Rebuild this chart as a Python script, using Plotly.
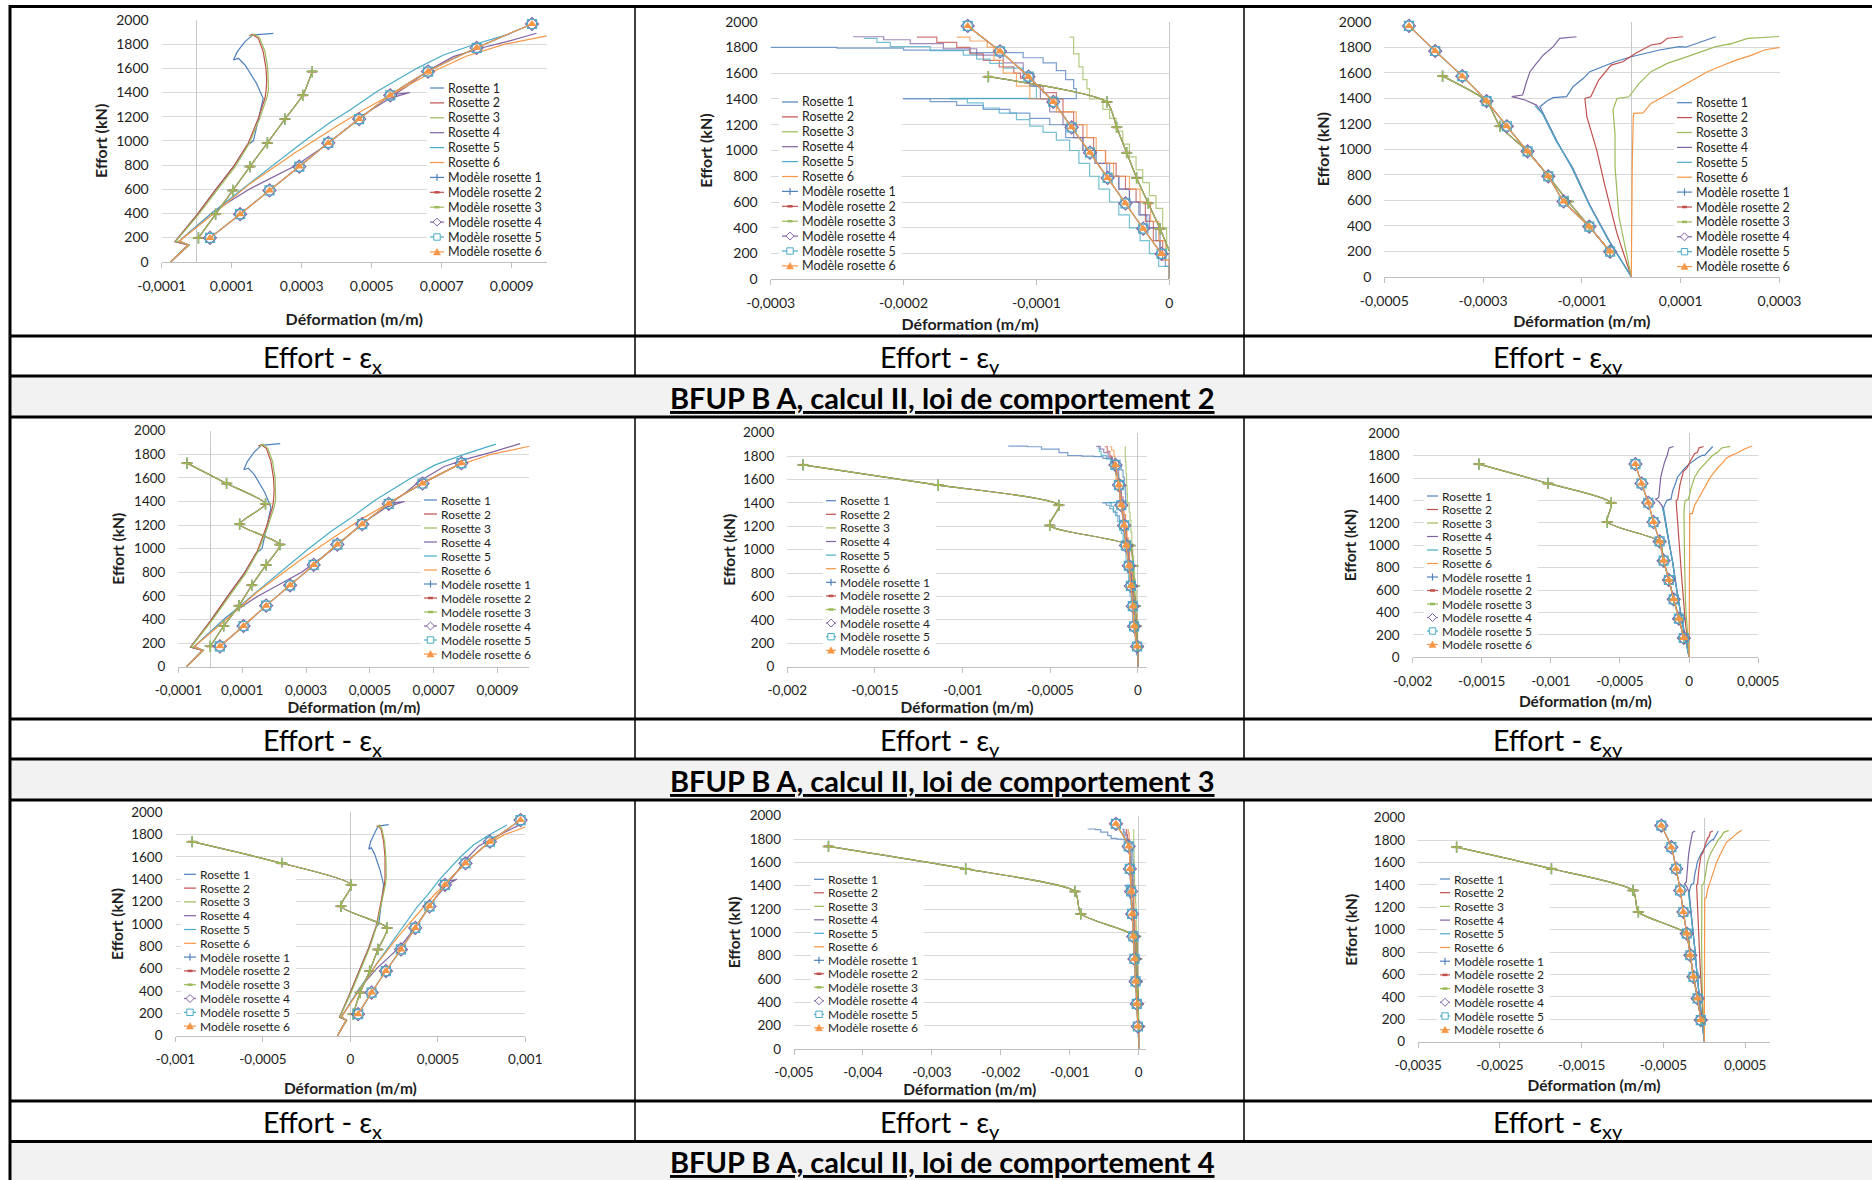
import plotly.graph_objects as go

W, H = 1872, 1180
FONT = "Lato, 'Open Sans', 'DejaVu Sans', sans-serif"
TXT = "#1E1E1E"

COLORS = ["#4F81BD", "#C0504D", "#9BBB59", "#8064A2", "#4BACC6", "#F79646"]
SERIES_NAMES = ["Rosette 1", "Rosette 2", "Rosette 3", "Rosette 4", "Rosette 5", "Rosette 6",
                "Modèle rosette 1", "Modèle rosette 2", "Modèle rosette 3",
                "Modèle rosette 4", "Modèle rosette 5", "Modèle rosette 6"]

CAPTION_MAIN = "Effort - ε"
CAPTION_SUBS = ["x", "y", "xy"]
SECTION_TITLES = ["BFUP B A, calcul II, loi de comportement 2",
                  "BFUP B A, calcul II, loi de comportement 3",
                  "BFUP B A, calcul II, loi de comportement 4"]
Y_TITLE = "Effort (kN)"
X_TITLE = "Déformation (m/m)"

# ---------------- tick values / labels ----------------
Y_TICKS = [0, 200, 400, 600, 800, 1000, 1200, 1400, 1600, 1800, 2000]
Y_TICK_LABELS = ["0", "200", "400", "600", "800", "1000", "1200", "1400", "1600", "1800", "2000"]

X_TICKS_EX_SMALL = [-0.0001, 0.0001, 0.0003, 0.0005, 0.0007, 0.0009]
X_LABELS_EX_SMALL = ["-0,0001", "0,0001", "0,0003", "0,0005", "0,0007", "0,0009"]
X_TICKS_EY_SMALL = [-0.0003, -0.0002, -0.0001, 0.0]
X_LABELS_EY_SMALL = ["-0,0003", "-0,0002", "-0,0001", "0"]
X_TICKS_EXY_SMALL = [-0.0005, -0.0003, -0.0001, 0.0001, 0.0003]
X_LABELS_EXY_SMALL = ["-0,0005", "-0,0003", "-0,0001", "0,0001", "0,0003"]
X_TICKS_EY_MID = [-0.002, -0.0015, -0.001, -0.0005, 0.0]
X_LABELS_EY_MID = ["-0,002", "-0,0015", "-0,001", "-0,0005", "0"]
X_TICKS_EXY_MID = [-0.002, -0.0015, -0.001, -0.0005, 0.0, 0.0005]
X_LABELS_EXY_MID = ["-0,002", "-0,0015", "-0,001", "-0,0005", "0", "0,0005"]
X_TICKS_EX_WIDE = [-0.001, -0.0005, 0.0, 0.0005, 0.001]
X_LABELS_EX_WIDE = ["-0,001", "-0,0005", "0", "0,0005", "0,001"]
X_TICKS_EY_WIDE = [-0.005, -0.004, -0.003, -0.002, -0.001, 0.0]
X_LABELS_EY_WIDE = ["-0,005", "-0,004", "-0,003", "-0,002", "-0,001", "0"]
X_TICKS_EXY_WIDE = [-0.0035, -0.0025, -0.0015, -0.0005, 0.0005]
X_LABELS_EXY_WIDE = ["-0,0035", "-0,0025", "-0,0015", "-0,0005", "0,0005"]

# ---------------- experimental rosettes : eps_x ----------------
EX_ROS1_STRAIN = [-0.74e-4, -0.24e-4, -0.62e-4, -0.3e-4, 0.0, 0.57e-4, 1.05e-4, 1.45e-4, 1.62e-4, 1.78e-4,
                  1.9e-4, 1.7e-4, 1.52e-4, 1.38e-4, 1.19e-4, 1.05e-4, 1.16e-4, 1.3e-4, 1.38e-4, 1.5e-4,
                  1.6e-4, 2.19e-4]
EX_ROS1_LOAD = [0, 138, 166, 280, 386, 607, 786, 966, 1000, 1200, 1350, 1480, 1559, 1628, 1683, 1669,
                1738, 1790, 1821, 1850, 1876, 1890]
EX_ROS2_STRAIN = [-0.74e-4, -0.24e-4, -0.62e-4, 0.0, 0.57e-4, 1.05e-4, 1.47e-4, 1.76e-4, 1.95e-4, 1.98e-4,
                  2.0e-4, 1.98e-4, 1.9e-4, 1.76e-4, 1.6e-4, 1.5e-4]
EX_ROS2_LOAD = [0, 138, 166, 386, 607, 786, 979, 1186, 1352, 1407, 1500, 1600, 1738, 1848, 1880, 1872]
EX_ROS3_STRAIN = [-0.74e-4, -0.2e-4, -0.6e-4, 0.05e-4, 0.62e-4, 1.1e-4, 1.5e-4, 1.8e-4, 2.0e-4, 2.05e-4,
                  2.03e-4, 1.95e-4, 1.8e-4, 1.65e-4, 1.55e-4]
EX_ROS3_LOAD = [0, 140, 168, 390, 607, 786, 979, 1186, 1352, 1420, 1600, 1740, 1850, 1885, 1866]
EX_ROS4_STRAIN = [-0.74e-4, -0.24e-4, -0.5e-4, 0.5e-4, 1.5e-4, 2.86e-4, 3.76e-4, 4.76e-4, 5.52e-4, 6.09e-4,
                  5.66e-4, 6.0e-4, 6.57e-4, 7.33e-4, 8.1e-4, 8.86e-4, 9.71e-4]
EX_ROS4_LOAD = [0, 138, 170, 420, 600, 800, 979, 1214, 1352, 1400, 1385, 1450, 1573, 1697, 1766, 1821, 1890]
EX_ROS5_STRAIN = [-0.74e-4, -0.24e-4, -0.5e-4, 0.48e-4, 1.3e-4, 2.2e-4, 3.05e-4, 3.8e-4, 4.38e-4, 5.14e-4,
                  6.29e-4, 7.05e-4, 7.95e-4, 8.95e-4]
EX_ROS5_LOAD = [0, 138, 170, 414, 600, 800, 993, 1150, 1255, 1407, 1600, 1710, 1799, 1886]
EX_ROS6_STRAIN = [-0.74e-4, -0.24e-4, -0.5e-4, 0.5e-4, 1.5e-4, 2.8e-4, 4.0e-4, 4.76e-4, 5.8e-4, 6.8e-4,
                  7.7e-4, 8.8e-4, 10.0e-4, 10.4e-4]
EX_ROS6_LOAD = [0, 138, 170, 400, 640, 900, 1120, 1255, 1420, 1580, 1700, 1800, 1868, 1885]

# ---------------- experimental rosettes : eps_y ----------------
EY_ROS1_STRAIN = [0.0, -0.03e-4, -0.07e-4, -0.1e-4, -0.17e-4, -0.23e-4, -0.3e-4, -0.38e-4, -0.45e-4,
                  -0.55e-4, -0.65e-4, -0.78e-4, -0.9e-4, -1.05e-4, -1.2e-4, -1.4e-4, -1.6e-4, -1.8e-4,
                  -2.0e-4, -0.7e-4, -0.72e-4, -0.78e-4, -0.85e-4, -0.95e-4, -1.1e-4, -1.5e-4, -2.0e-4,
                  -2.5e-4, -3.2e-4, -4.0e-4, -4.5e-4, -5.5e-4, -6.3e-4, -7.4e-4]
EY_ROS1_LOAD = [0, 100, 200, 300, 400, 500, 600, 700, 800, 900, 1000, 1100, 1200, 1250, 1290, 1320, 1350,
                1380, 1400, 1402, 1480, 1550, 1620, 1680, 1720, 1760, 1780, 1795, 1800, 1805, 1830, 1860,
                1880, 1886]
EY_ROS2_STRAIN = [0.0, -0.05e-4, -0.12e-4, -0.18e-4, -0.25e-4, -0.33e-4, -0.4e-4, -0.48e-4, -0.57e-4,
                  -0.65e-4, -0.72e-4, -0.8e-4, -0.85e-4, -0.95e-4, -1.05e-4, -1.12e-4, -1.17e-4, -1.28e-4,
                  -1.4e-4, -1.5e-4, -1.6e-4, -1.75e-4, -1.9e-4]
EY_ROS2_LOAD = [0, 150, 300, 450, 600, 700, 800, 900, 1000, 1100, 1200, 1300, 1400, 1450, 1500, 1560, 1600,
                1650, 1700, 1750, 1800, 1840, 1880]
EY_ROS3_STRAIN = [0.0, -0.02e-4, -0.05e-4, -0.1e-4, -0.15e-4, -0.2e-4, -0.25e-4, -0.3e-4, -0.35e-4,
                  -0.4e-4, -0.45e-4, -0.5e-4, -0.6e-4, -0.62e-4, -0.65e-4, -0.68e-4, -0.72e-4, -0.75e-4]
EY_ROS3_LOAD = [0, 200, 400, 550, 650, 750, 850, 950, 1050, 1150, 1250, 1320, 1400, 1480, 1550, 1650, 1750, 1880]
EY_ROS4_STRAIN = [0.0, -0.07e-4, -0.15e-4, -0.22e-4, -0.3e-4, -0.38e-4, -0.47e-4, -0.56e-4, -0.65e-4,
                  -0.72e-4, -0.8e-4, -0.9e-4, -0.97e-4, -1.02e-4, -1.1e-4, -1.25e-4, -1.45e-4, -1.7e-4,
                  -1.95e-4, -2.15e-4, -2.38e-4]
EY_ROS4_LOAD = [0, 200, 400, 500, 600, 700, 800, 900, 1000, 1100, 1200, 1300, 1400, 1500, 1600, 1680, 1740,
                1790, 1830, 1860, 1883]
EY_ROS5_STRAIN = [0.0, -0.08e-4, -0.15e-4, -0.22e-4, -0.3e-4, -0.38e-4, -0.45e-4, -0.53e-4, -0.6e-4,
                  -0.68e-4, -0.75e-4, -0.85e-4, -0.95e-4, -1.05e-4, -1.15e-4, -1.28e-4, -1.4e-4, -1.52e-4,
                  -1.65e-4, -1.0e-4, -1.05e-4, -1.1e-4, -1.25e-4, -1.35e-4, -1.45e-4, -1.55e-4, -1.8e-4,
                  -2.1e-4, -2.2e-4, -2.3e-4]
EY_ROS5_LOAD = [0, 100, 200, 300, 400, 500, 600, 700, 800, 900, 1000, 1080, 1140, 1190, 1240, 1290, 1330,
                1370, 1400, 1405, 1500, 1600, 1640, 1676, 1710, 1741, 1775, 1806, 1840, 1870]
EY_ROS6_STRAIN = [0.0, -0.03e-4, -0.08e-4, -0.14e-4, -0.22e-4, -0.3e-4, -0.42e-4, -0.48e-4, -0.55e-4,
                  -0.62e-4, -0.7e-4, -0.85e-4, -1.05e-4, -1.15e-4, -1.25e-4, -1.32e-4, -1.37e-4, -1.5e-4,
                  -1.6e-4]
EY_ROS6_LOAD = [0, 150, 300, 450, 600, 700, 800, 900, 1000, 1100, 1200, 1300, 1400, 1500, 1600, 1700, 1800,
                1850, 1880]

# ---------------- experimental rosettes : eps_xy ----------------
EXY_ROS1_STRAIN = [0.0, -0.45e-4, -0.85e-4, -1.2e-4, -1.5e-4, -1.78e-4, -1.85e-4, -1.7e-4, -1.58e-4,
                   -1.31e-4, -1.18e-4, -0.97e-4, -0.84e-4, -0.33e-4, 0.0, 0.57e-4, 0.97e-4, 1.1e-4, 1.71e-4]
EXY_ROS1_LOAD = [0, 285, 565, 850, 1060, 1270, 1333, 1380, 1404, 1412, 1490, 1556, 1608, 1686, 1725, 1778,
                 1804, 1800, 1882]
EXY_ROS2_STRAIN = [0.0, -0.15e-4, -0.29e-4, -0.53e-4, -0.7e-4, -0.9e-4, -0.94e-4, -0.82e-4, -0.66e-4,
                   -0.41e-4, -0.17e-4, 0.08e-4, 0.4e-4, 0.6e-4, 0.73e-4, 1.05e-4]
EXY_ROS2_LOAD = [0, 170, 340, 706, 993, 1255, 1398, 1411, 1542, 1660, 1686, 1751, 1817, 1830, 1870, 1882]
EXY_ROS3_STRAIN = [0.0, -0.1e-4, -0.25e-4, -0.33e-4, -0.33e-4, -0.37e-4, -0.29e-4, -0.05e-4, 0.16e-4,
                   0.4e-4, 0.73e-4, 1.22e-4, 1.71e-4, 2.05e-4, 1.95e-4, 2.36e-4, 2.99e-4]
EXY_ROS3_LOAD = [0, 200, 470, 863, 1124, 1307, 1398, 1411, 1516, 1608, 1673, 1738, 1804, 1830, 1818, 1869, 1884]
EXY_ROS4_STRAIN = [0.0, -0.45e-4, -0.84e-4, -1.18e-4, -1.51e-4, -1.78e-4, -1.92e-4, -2.15e-4, -2.42e-4,
                   -2.2e-4, -2.12e-4, -2.05e-4, -1.92e-4, -1.78e-4, -1.58e-4, -1.45e-4, -1.11e-4]
EXY_ROS4_LOAD = [0, 280, 562, 850, 1059, 1268, 1346, 1386, 1412, 1425, 1529, 1608, 1673, 1739, 1804, 1869, 1882]
EXY_ROS5_STRAIN = [0.0, -0.47e-4, -0.86e-4, -1.2e-4, -1.52e-4, -1.8e-4, -1.95e-4]
EXY_ROS5_LOAD = [0, 290, 570, 860, 1065, 1280, 1340]
EXY_ROS6_STRAIN = [0.0, 0.01e-4, 0.02e-4, 0.04e-4, 0.05e-4, 0.24e-4, 0.4e-4, 0.65e-4, 0.89e-4, 1.22e-4,
                   1.54e-4, 1.87e-4, 2.12e-4, 2.44e-4, 2.69e-4, 3.1e-4, 3.4e-4, 4.0e-4, 4.57e-4]
EXY_ROS6_LOAD = [0, 500, 900, 1250, 1281, 1285, 1359, 1411, 1464, 1542, 1608, 1660, 1699, 1738, 1778, 1805,
                 1820, 1860, 1887]

# ---------------- model results ----------------
LOADS_LOI2 = [197, 393, 590, 787, 983, 1180, 1377, 1573, 1770, 1967]
LOADS_LOI3 = [172.5, 345, 517.5, 690, 862.5, 1035, 1207.5, 1380, 1552.5, 1725]
LOADS_LOI4 = [193, 386, 579, 772, 965, 1158, 1351, 1544, 1737, 1930]

# models 1-3 (superposed) and models 4-6 (superposed)
LOI2_EX_M123 = [0.05e-4, 0.54e-4, 1.03e-4, 1.52e-4, 2.02e-4, 2.52e-4, 3.03e-4, 3.30e-4]
LOI2_EX_M456 = [0.38e-4, 1.24e-4, 2.08e-4, 2.93e-4, 3.76e-4, 4.64e-4, 5.53e-4, 6.61e-4, 8.0e-4, 9.58e-4]
LOI2_EY_M123 = [0.01e-4, -0.07e-4, -0.158e-4, -0.246e-4, -0.321e-4, -0.396e-4, -0.47e-4, -1.362e-4]
LOI2_EY_M456 = [-0.058e-4, -0.196e-4, -0.33e-4, -0.464e-4, -0.597e-4, -0.735e-4, -0.873e-4, -1.06e-4,
                -1.274e-4, -1.517e-4]
LOI2_EXY_M123 = [-0.43e-4, -0.85e-4, -1.28e-4, -1.68e-4, -2.1e-4, -2.66e-4, -2.93e-4, -3.82e-4]
LOI2_EXY_M456 = [-0.43e-4, -0.85e-4, -1.37e-4, -1.68e-4, -2.1e-4, -2.52e-4, -2.93e-4, -3.42e-4, -3.97e-4,
                 -4.5e-4]

LOI3_EX_M123 = [0.0, 0.42e-4, 0.9e-4, 1.3e-4, 1.75e-4, 2.18e-4, 0.92e-4, 1.73e-4, 0.51e-4, -0.73e-4]
LOI3_EX_M456 = [0.3e-4, 1.04e-4, 1.75e-4, 2.5e-4, 3.24e-4, 3.98e-4, 4.76e-4, 5.59e-4, 6.65e-4, 7.87e-4]
LOI3_EY_M123 = [0.0, -0.1e-4, -0.15e-4, -0.22e-4, -0.29e-4, -0.45e-4, -5.03e-4, -4.51e-4, -11.39e-4, -19.1e-4]
LOI3_EY_M456 = [-0.05e-4, -0.22e-4, -0.29e-4, -0.4e-4, -0.52e-4, -0.68e-4, -0.79e-4, -0.95e-4, -1.08e-4,
                -1.28e-4]
LOI3_EXY_M123 = [-0.38e-4, -0.73e-4, -1.11e-4, -1.46e-4, -1.84e-4, -2.13e-4, -5.92e-4, -5.63e-4, -10.2e-4,
                 -15.2e-4]
LOI3_EXY_M456 = [-0.38e-4, -0.73e-4, -1.11e-4, -1.46e-4, -1.84e-4, -2.13e-4, -2.57e-4, -2.95e-4, -3.44e-4,
                 -3.88e-4]

LOI4_EX_M123 = [0.16e-4, 0.56e-4, 1.1e-4, 1.57e-4, 2.1e-4, -0.54e-4, 0.05e-4, -3.92e-4, -9.05e-4]
LOI4_EX_M456 = [0.44e-4, 1.21e-4, 2.03e-4, 2.89e-4, 3.71e-4, 4.52e-4, 5.41e-4, 6.58e-4, 7.98e-4, 9.73e-4]
LOI4_EY_M123 = [0.0, -0.1e-4, -0.2e-4, -0.3e-4, -0.45e-4, -8.4e-4, -9.26e-4, -25.1e-4, -45.0e-4]
LOI4_EY_M456 = [-0.12e-4, -0.28e-4, -0.45e-4, -0.62e-4, -0.78e-4, -0.95e-4, -1.1e-4, -1.28e-4, -1.45e-4,
                -3.3e-4]
LOI4_EXY_M123 = [-0.43e-4, -0.82e-4, -1.32e-4, -1.71e-4, -2.15e-4, -8.07e-4, -8.72e-4, -18.7e-4, -30.3e-4]
LOI4_EXY_M456 = [-0.43e-4, -0.82e-4, -1.32e-4, -1.71e-4, -2.15e-4, -2.56e-4, -2.95e-4, -3.44e-4, -4.03e-4,
                 -5.26e-4]

ROSETTES = {
    "ex": [(EX_ROS1_STRAIN, EX_ROS1_LOAD), (EX_ROS2_STRAIN, EX_ROS2_LOAD), (EX_ROS3_STRAIN, EX_ROS3_LOAD),
           (EX_ROS4_STRAIN, EX_ROS4_LOAD), (EX_ROS5_STRAIN, EX_ROS5_LOAD), (EX_ROS6_STRAIN, EX_ROS6_LOAD)],
    "ey": [(EY_ROS1_STRAIN, EY_ROS1_LOAD), (EY_ROS2_STRAIN, EY_ROS2_LOAD), (EY_ROS3_STRAIN, EY_ROS3_LOAD),
           (EY_ROS4_STRAIN, EY_ROS4_LOAD), (EY_ROS5_STRAIN, EY_ROS5_LOAD), (EY_ROS6_STRAIN, EY_ROS6_LOAD)],
    "exy": [(EXY_ROS1_STRAIN, EXY_ROS1_LOAD), (EXY_ROS2_STRAIN, EXY_ROS2_LOAD), (EXY_ROS3_STRAIN, EXY_ROS3_LOAD),
            (EXY_ROS4_STRAIN, EXY_ROS4_LOAD), (EXY_ROS5_STRAIN, EXY_ROS5_LOAD), (EXY_ROS6_STRAIN, EXY_ROS6_LOAD)],
}

# ---------------- chart layout (pixel geometry of each plot area) ----------------
# px = (left, right, top, bottom); leg = (key x, text x, first row y, row step, font size)
# ysd / xsd = axis-title standoffs
CHARTS = [
    dict(comp="ex", loads=LOADS_LOI2, m123=LOI2_EX_M123, m456=LOI2_EX_M456,
         px=(161.7, 546.7, 20.0, 261.7), xr=[-0.0001, 0.001], ticks=(X_TICKS_EX_SMALL, X_LABELS_EX_SMALL),
         fs=14, leg=(430, 446, 88, 14.9, 12.5), ysd=4, xsd=21, tfs=16),
    dict(comp="ey", loads=LOADS_LOI2, m123=LOI2_EY_M123, m456=LOI2_EY_M456,
         px=(770.7, 1169.3, 21.7, 279.3), xr=[-0.0003, 0.0], ticks=(X_TICKS_EY_SMALL, X_LABELS_EY_SMALL),
         fs=14, leg=(782, 800, 102, 14.9, 12.5), ysd=8, xsd=8, tfs=16),
    dict(comp="exy", loads=LOADS_LOI2, m123=LOI2_EXY_M123, m456=LOI2_EXY_M456,
         px=(1384.3, 1779.5, 21.7, 276.7), xr=[-0.0005, 0.0003], ticks=(X_TICKS_EXY_SMALL, X_LABELS_EXY_SMALL),
         fs=14, leg=(1677, 1694, 102.7, 14.9, 12.5), ysd=5, xsd=8, tfs=16),
    dict(comp="ex", loads=LOADS_LOI3, m123=LOI3_EX_M123, m456=LOI3_EX_M456,
         px=(178.4, 529.4, 430.7, 666.7), xr=[-0.0001, 0.001], ticks=(X_TICKS_EX_SMALL, X_LABELS_EX_SMALL),
         fs=13.5, leg=(424, 439, 500, 14.0, 12), ysd=5, xsd=4, tfs=15.5),
    dict(comp="ey", loads=LOADS_LOI3, m123=LOI3_EY_M123, m456=LOI3_EY_M456,
         px=(787.3, 1146.7, 432.7, 666.7), xr=[-0.002, 0.00005], ticks=(X_TICKS_EY_MID, X_LABELS_EY_MID),
         fs=13.5, leg=(826, 838, 500.7, 13.6, 12), ysd=3, xsd=4, tfs=15.5),
    dict(comp="exy", loads=LOADS_LOI3, m123=LOI3_EXY_M123, m456=LOI3_EXY_M456,
         px=(1412.6, 1758.2, 433.3, 657.3), xr=[-0.002, 0.0005], ticks=(X_TICKS_EXY_MID, X_LABELS_EXY_MID),
         fs=13.5, leg=(1427, 1440, 496, 13.5, 12), ysd=7, xsd=8, tfs=15.5),
    dict(comp="ex", loads=LOADS_LOI4, m123=LOI4_EX_M123, m456=LOI4_EX_M456,
         px=(175.5, 525.3, 812.3, 1035.7), xr=[-0.001, 0.001], ticks=(X_TICKS_EX_WIDE, X_LABELS_EX_WIDE),
         fs=13.5, leg=(184, 198, 874.3, 13.8, 12), ysd=3, xsd=17, tfs=15.5),
    dict(comp="ey", loads=LOADS_LOI4, m123=LOI4_EY_M123, m456=LOI4_EY_M456,
         px=(794.0, 1145.6, 815.7, 1049.0), xr=[-0.005, 0.0001], ticks=(X_TICKS_EY_WIDE, X_LABELS_EY_WIDE),
         fs=13.5, leg=(814, 826, 879.3, 13.5, 12), ysd=5, xsd=4, tfs=15.5),
    dict(comp="exy", loads=LOADS_LOI4, m123=LOI4_EXY_M123, m456=LOI4_EXY_M456,
         px=(1418.2, 1769.7, 817.7, 1041.7), xr=[-0.0035, 0.0008], ticks=(X_TICKS_EXY_WIDE, X_LABELS_EXY_WIDE),
         fs=13.5, leg=(1440, 1452, 879, 13.7, 12), ysd=12, xsd=8, tfs=15.5),
]

MODEL_MARKERS = [
    dict(symbol="cross-thin", size=8, color=COLORS[0], line=dict(width=1.5, color=COLORS[0])),
    dict(symbol="line-ew", size=6, color=COLORS[1], line=dict(width=2, color=COLORS[1])),
    dict(symbol="cross-thin", size=8, color=COLORS[2], line=dict(width=1.5, color=COLORS[2])),
    dict(symbol="diamond-open", size=10, color=COLORS[3], line=dict(width=1.2)),
    dict(symbol="square-open", size=9, color=COLORS[4], line=dict(width=1.2)),
    dict(symbol="triangle-up", size=8, color=COLORS[5], line=dict(width=0)),
]
LEGEND_KEYS = ["cross", "dash", "dash", "diamond", "square", "triangle"]

# table geometry (pixels)
COL_X = [10, 635, 1244, W]
ROW_CHART = [(6, 336), (417, 719), (800, 1101)]
ROW_CAPTION = [(336, 376), (719, 759), (1101, 1141)]
ROW_BAND = [(376, 417), (759, 800), (1141, 1180)]
CAP_FS, SUB_FS = 28.5, 20
CAP_MAIN_W = 108            # approximate rendered width of "Effort - ε" (px)
SUB_W = {"x": 10, "y": 10, "xy": 20}

GRID = "#D9D9D9"
AXIS = "#BFBFBF"


def PX(v):
    return v / W


def PY(v):
    return 1 - v / H


fig = go.Figure()
shapes = []
annotations = []
layout_axes = {}

# background table bands (below everything)
for (y0, y1) in ROW_BAND:
    shapes.append(dict(type="rect", xref="paper", yref="paper", x0=PX(COL_X[0]), x1=1.0,
                       y0=PY(y1), y1=PY(y0), fillcolor="#F2F2F2", line=dict(width=0), layer="below"))

for k, ch in enumerate(CHARTS):
    xa = "xaxis" if k == 0 else f"xaxis{k + 1}"
    ya = "yaxis" if k == 0 else f"yaxis{k + 1}"
    xr = "x" if k == 0 else f"x{k + 1}"
    yr = "y" if k == 0 else f"y{k + 1}"
    x0, x1, yt, yb = ch["px"]
    tv, tt = ch["ticks"]
    layout_axes[xa] = dict(
        domain=[PX(x0), PX(x1)], anchor=yr, range=ch["xr"], tickmode="array", tickvals=tv, ticktext=tt,
        showgrid=False, zeroline=True, zerolinecolor="#C8C8C8", zerolinewidth=1, automargin=False,
        showline=True, linecolor=AXIS, linewidth=1, ticks="outside", ticklen=5, tickcolor=AXIS,
        tickfont=dict(family=FONT, size=ch["fs"], color=TXT), ticklabelstandoff=6, fixedrange=True,
        title=dict(text=X_TITLE, standoff=ch["xsd"],
                   font=dict(family=FONT, size=ch["tfs"], color=TXT, weight="bold")))
    layout_axes[ya] = dict(
        domain=[PY(yb), PY(yt)], anchor=xr, range=[0, 2000], tickmode="array", tickvals=Y_TICKS,
        ticktext=Y_TICK_LABELS, showgrid=True, gridcolor=GRID, gridwidth=1, zeroline=False,
        showline=False, ticks="", tickfont=dict(family=FONT, size=ch["fs"], color=TXT),
        ticklabelstandoff=12, fixedrange=True, automargin=False,
        title=dict(text=Y_TITLE, standoff=ch["ysd"],
                   font=dict(family=FONT, size=ch["tfs"], color=TXT, weight="bold")))

    # experimental rosettes
    for i, (sx, sy) in enumerate(ROSETTES[ch["comp"]]):
        fig.add_trace(go.Scatter(
            x=sx, y=sy, mode="lines", name=SERIES_NAMES[i], xaxis=xr, yaxis=yr, showlegend=False,
            line=dict(color=COLORS[i], width=1.2, shape="vh" if ch["comp"] == "ey" else "linear"),
            opacity=0.75 if ch["comp"] == "ey" else 1.0, hoverinfo="skip"))
    # model series
    for i in range(6):
        vals = ch["m123"] if i < 3 else ch["m456"]
        fig.add_trace(go.Scatter(
            x=vals, y=ch["loads"][:len(vals)], mode="lines+markers", name=SERIES_NAMES[6 + i],
            xaxis=xr, yaxis=yr, showlegend=False, cliponaxis=False,
            line=dict(color=COLORS[i], width=1.2, shape="spline", smoothing=0.6),
            marker=MODEL_MARKERS[i], hoverinfo="skip"))

    # legend box (white, hides gridlines like the original)
    kx, tx, ly0, sp, lfs = ch["leg"]
    n = len(SERIES_NAMES)
    shapes.append(dict(type="rect", xref="paper", yref="paper", x0=PX(kx - 3), x1=PX(tx + 7.9 * lfs + 3),
                       y0=PY(ly0 + (n - 1) * sp + sp / 2), y1=PY(ly0 - sp / 2),
                       fillcolor="white", line=dict(width=0), layer="above"))
    for i, name in enumerate(SERIES_NAMES):
        cy = ly0 + i * sp
        col = COLORS[i % 6]
        shapes.append(dict(type="line", xref="paper", yref="paper", x0=PX(kx), x1=PX(tx - 2),
                           y0=PY(cy), y1=PY(cy), line=dict(color=col, width=1.2), layer="above"))
        if i >= 6:
            cx = (kx + tx - 2) / 2
            key = LEGEND_KEYS[i - 6]
            if key == "cross":
                shapes.append(dict(type="line", xref="paper", yref="paper", x0=PX(cx), x1=PX(cx),
                                   y0=PY(cy - 3.5), y1=PY(cy + 3.5), line=dict(color=col, width=1.2)))
            elif key == "dash":
                shapes.append(dict(type="line", xref="paper", yref="paper", x0=PX(cx - 2.5), x1=PX(cx + 2.5),
                                   y0=PY(cy), y1=PY(cy), line=dict(color=col, width=2.5)))
            elif key == "diamond":
                pts = [(cx, cy - 4), (cx + 4, cy), (cx, cy + 4), (cx - 4, cy)]
                path = "M " + " L ".join(f"{PX(a):.6f},{PY(b):.6f}" for a, b in pts) + " Z"
                shapes.append(dict(type="path", xref="paper", yref="paper", path=path,
                                   fillcolor="white", line=dict(color=col, width=1)))
            elif key == "square":
                shapes.append(dict(type="rect", xref="paper", yref="paper", x0=PX(cx - 3.2), x1=PX(cx + 3.2),
                                   y0=PY(cy + 3.2), y1=PY(cy - 3.2), fillcolor="white",
                                   line=dict(color=col, width=1)))
            else:
                pts = [(cx, cy - 3.5), (cx + 3.5, cy + 3), (cx - 3.5, cy + 3)]
                path = "M " + " L ".join(f"{PX(a):.6f},{PY(b):.6f}" for a, b in pts) + " Z"
                shapes.append(dict(type="path", xref="paper", yref="paper", path=path,
                                   fillcolor=col, line=dict(color=col, width=0.5)))
        annotations.append(dict(text=name, x=PX(tx), y=PY(cy), xref="paper", yref="paper",
                                showarrow=False, xanchor="left", yanchor="middle",
                                font=dict(family=FONT, size=lfs, color=TXT)))

# captions (main text + lowered subscript) and section titles
for r in range(3):
    cy = (ROW_CAPTION[r][0] + ROW_CAPTION[r][1]) / 2 + 1
    for c in range(3):
        cx = (COL_X[c] + COL_X[c + 1]) / 2
        sub = CAPTION_SUBS[c]
        split = cx - (CAP_MAIN_W + SUB_W[sub]) / 2 + CAP_MAIN_W
        annotations.append(dict(text=CAPTION_MAIN, x=PX(split), y=PY(cy), xref="paper", yref="paper",
                                showarrow=False, xanchor="right", yanchor="middle", borderpad=0,
                                borderwidth=0, font=dict(family=FONT, size=CAP_FS, color="#000000")))
        annotations.append(dict(text=sub, x=PX(split), y=PY(cy + 9), xref="paper", yref="paper",
                                showarrow=False, xanchor="left", yanchor="middle", borderpad=0,
                                borderwidth=0, font=dict(family=FONT, size=SUB_FS, color="#000000")))
    by = (ROW_BAND[r][0] + ROW_BAND[r][1]) / 2
    annotations.append(dict(text=f"<u>{SECTION_TITLES[r]}</u>", x=PX(942), y=PY(by + 1),
                            xref="paper", yref="paper", showarrow=False, xanchor="center", yanchor="middle",
                            font=dict(family=FONT, size=29, color="#000000", weight="bold")))

# table lines
HLINES = [6.5, 336, 376, 417, 719, 759, 800, 1101, 1141.5]
for yv in HLINES:
    shapes.append(dict(type="line", xref="paper", yref="paper", x0=PX(COL_X[0]), x1=1.0,
                       y0=PY(yv), y1=PY(yv), line=dict(color="#000000", width=3)))
shapes.append(dict(type="line", xref="paper", yref="paper", x0=PX(10), x1=PX(10),
                   y0=PY(5), y1=0, line=dict(color="#000000", width=3)))
for r in range(3):
    for xv in COL_X[1:3]:
        shapes.append(dict(type="line", xref="paper", yref="paper", x0=PX(xv), x1=PX(xv),
                           y0=PY(ROW_CHART[r][0]), y1=PY(ROW_CAPTION[r][1]),
                           line=dict(color="#000000", width=1.5)))

fig.update_layout(
    width=W, height=H, autosize=False,
    margin=dict(l=0, r=0, t=0, b=0, pad=0, autoexpand=False),
    paper_bgcolor="white", plot_bgcolor="white", showlegend=False, hovermode=False,
    font=dict(family=FONT, color=TXT), shapes=shapes, annotations=annotations, **layout_axes)

POST = ("document.documentElement.style.margin='0px';document.documentElement.style.padding='0px';"
        "document.body.style.margin='0px';document.body.style.padding='0px';")

fig.write_html("out.html", include_plotlyjs=True, full_html=True,
               config={"displayModeBar": False, "staticPlot": True},
               post_script=POST)
